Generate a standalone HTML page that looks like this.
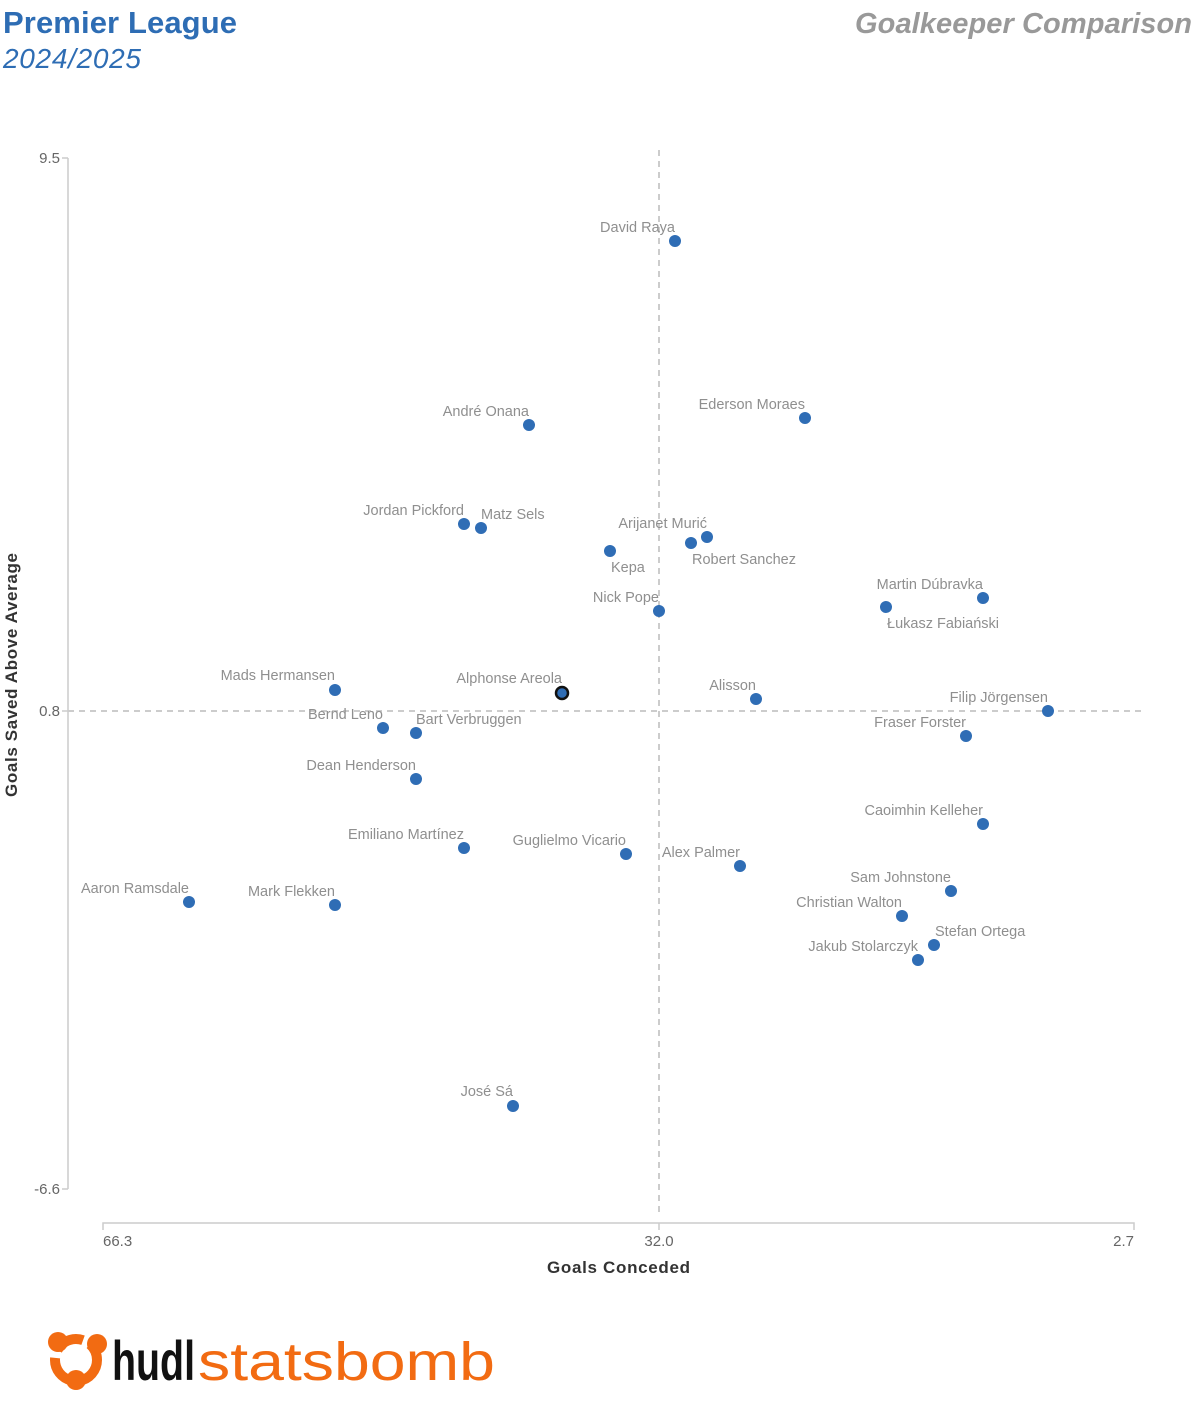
<!DOCTYPE html>
<html><head><meta charset="utf-8"><style>
body{margin:0;background:#fff;width:1196px;height:1416px;overflow:hidden}
svg{display:block;font-family:"Liberation Sans",sans-serif}
.l{font-size:14.5px;fill:#8f8f8f}
.t{font-size:15px;fill:#666}
</style></head><body>
<svg width="1196" height="1416" viewBox="0 0 1196 1416">
<text x="3" y="33" font-size="31" font-weight="bold" fill="#2e6db4" textLength="234">Premier League</text>
<text x="3" y="68" font-size="28" font-style="italic" fill="#2e6db4" textLength="138">2024/2025</text>
<text x="855" y="33" font-size="29" font-weight="bold" font-style="italic" fill="#999" textLength="337">Goalkeeper Comparison</text>
<g stroke="#ccc" stroke-width="1.5" fill="none">
<path d="M68 158V1189M62 158H68M62 711H68M62 1189H68"/>
<path d="M103 1230V1223H1134V1230M659 1223V1230"/>
</g>
<g stroke="#ccc" stroke-width="2" stroke-dasharray="6,5">
<line x1="659" y1="150" x2="659" y2="1215"/>
<line x1="68" y1="711" x2="1142" y2="711"/>
</g>
<g class="t" text-anchor="end">
<text x="60" y="163">9.5</text><text x="60" y="716">0.8</text><text x="60" y="1194">-6.6</text>
</g>
<g class="t">
<text x="103" y="1246">66.3</text><text x="659" y="1246" text-anchor="middle">32.0</text><text x="1134" y="1246" text-anchor="end">2.7</text>
</g>
<text x="547" y="1273" font-size="17" font-weight="bold" fill="#333" textLength="143">Goals Conceded</text>
<text transform="translate(17,797) rotate(-90)" font-size="17" font-weight="bold" fill="#333" textLength="244">Goals Saved Above Average</text>
<g fill="#2f6db5">
<circle cx="675" cy="241" r="6"/><circle cx="805" cy="418" r="6"/><circle cx="529" cy="425" r="6"/>
<circle cx="464" cy="524" r="6"/><circle cx="481" cy="528" r="6"/><circle cx="610" cy="551" r="6"/>
<circle cx="707" cy="537" r="6"/><circle cx="691" cy="543" r="6"/><circle cx="659" cy="611" r="6"/>
<circle cx="983" cy="598" r="6"/><circle cx="886" cy="607" r="6"/><circle cx="335" cy="690" r="6"/>
<circle cx="756" cy="699" r="6"/><circle cx="1048" cy="711" r="6"/><circle cx="383" cy="728" r="6"/>
<circle cx="416" cy="733" r="6"/><circle cx="966" cy="736" r="6"/><circle cx="416" cy="779" r="6"/>
<circle cx="983" cy="824" r="6"/><circle cx="464" cy="848" r="6"/><circle cx="626" cy="854" r="6"/>
<circle cx="740" cy="866" r="6"/><circle cx="189" cy="902" r="6"/><circle cx="335" cy="905" r="6"/>
<circle cx="951" cy="891" r="6"/><circle cx="902" cy="916" r="6"/><circle cx="934" cy="945" r="6"/>
<circle cx="918" cy="960" r="6"/><circle cx="513" cy="1106" r="6"/>
<circle cx="562" cy="693" r="6" stroke="#111" stroke-width="2.5"/>
</g>
<g class="l" text-anchor="end">
<text x="675" y="232">David Raya</text><text x="805" y="409">Ederson Moraes</text><text x="529" y="416">André Onana</text>
<text x="464" y="515">Jordan Pickford</text><text x="707" y="528">Arijanet Murić</text><text x="659" y="602">Nick Pope</text>
<text x="983" y="589">Martin Dúbravka</text><text x="335" y="680">Mads Hermansen</text><text x="562" y="683">Alphonse Areola</text>
<text x="756" y="690">Alisson</text><text x="1048" y="702">Filip Jörgensen</text><text x="383" y="719">Bernd Leno</text>
<text x="966" y="727">Fraser Forster</text><text x="416" y="770">Dean Henderson</text><text x="983" y="815">Caoimhin Kelleher</text>
<text x="464" y="839">Emiliano Martínez</text><text x="626" y="845">Guglielmo Vicario</text><text x="740" y="857">Alex Palmer</text>
<text x="189" y="893">Aaron Ramsdale</text><text x="335" y="896">Mark Flekken</text><text x="951" y="882">Sam Johnstone</text>
<text x="902" y="907">Christian Walton</text><text x="918" y="951">Jakub Stolarczyk</text><text x="513" y="1096">José Sá</text>
</g>
<g class="l">
<text x="481" y="519">Matz Sels</text><text x="611" y="572">Kepa</text><text x="692" y="564">Robert Sanchez</text>
<text x="887" y="628">Łukasz Fabiański</text><text x="416" y="724">Bart Verbruggen</text><text x="935" y="936">Stefan Ortega</text>
</g>
<g fill="#f26b12">
<circle cx="76" cy="1360" r="21" fill="none" stroke="#f26b12" stroke-width="10" stroke-dasharray="30,8"/>
<circle cx="58" cy="1342" r="10"/><circle cx="97" cy="1344" r="10"/><circle cx="76" cy="1380" r="10"/>
</g>
<text x="112" y="1380" font-size="56" font-weight="bold" fill="#111" textLength="83" lengthAdjust="spacingAndGlyphs">hudl</text>
<text x="198" y="1380" font-size="54" fill="#f26b12" textLength="297" lengthAdjust="spacingAndGlyphs">statsbomb</text>
</svg>
</body></html>
